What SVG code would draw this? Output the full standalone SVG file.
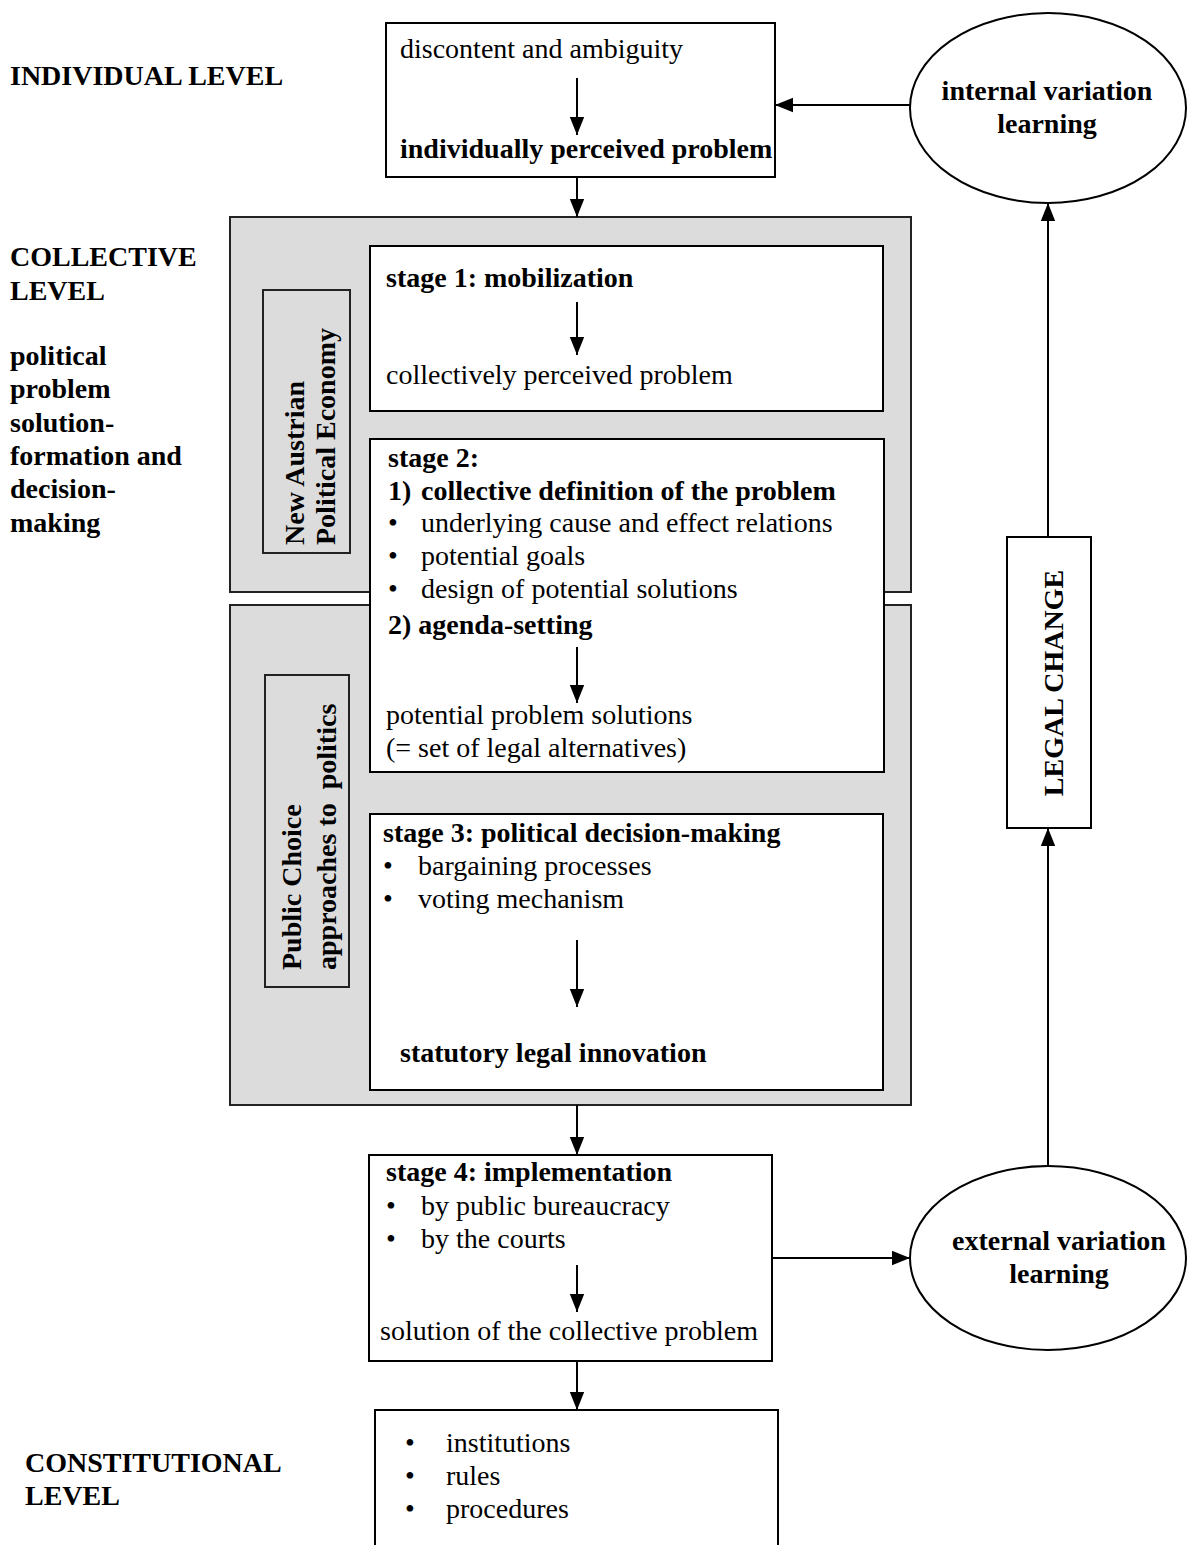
<svg xmlns="http://www.w3.org/2000/svg" width="1188" height="1545" viewBox="0 0 1188 1545">
<style>
text{font-family:"Liberation Serif","Times New Roman",serif;font-size:28px;fill:#000}
.b{font-weight:bold}
.box{fill:#fff;stroke:#000;stroke-width:2}
.grey{fill:#dcdcdc;stroke:#222;stroke-width:2}
.c{stroke:#000;stroke-width:2;fill:none}
.m{text-anchor:middle}
</style>
<defs>
<marker id="ah" markerUnits="userSpaceOnUse" markerWidth="18" markerHeight="22" refX="20" refY="8" orient="auto" viewBox="0 0 20 16">
<path d="M0,0 L20,8 L0,16 Z" fill="#000"/>
</marker>
</defs>
<rect width="1188" height="1545" fill="#fff"/>

<g id="levels">
<text class="b" x="10" y="85">INDIVIDUAL LEVEL</text>
<text class="b" x="10" y="266">COLLECTIVE</text>
<text class="b" x="10" y="300">LEVEL</text>
<text class="b" x="10" y="365">political</text>
<text class="b" x="10" y="398">problem</text>
<text class="b" x="10" y="432">solution-</text>
<text class="b" x="10" y="465">formation and</text>
<text class="b" x="10" y="498">decision-</text>
<text class="b" x="10" y="532">making</text>
<text class="b" x="25" y="1472">CONSTITUTIONAL</text>
<text class="b" x="25" y="1505">LEVEL</text>
</g>

<g id="grey-nape">
<rect class="grey" x="230" y="217" width="681" height="375"/>
<rect class="grey" x="263" y="290" width="87" height="263"/>
<text class="b" transform="translate(304,545) rotate(-90)">New Austrian</text>
<text class="b" transform="translate(335,545) rotate(-90)">Political Economy</text>
</g>
<g id="grey-pc">
<rect class="grey" x="230" y="605" width="681" height="500"/>
<rect class="grey" x="265" y="675" width="84" height="312"/>
<text class="b" transform="translate(301,970) rotate(-90)">Public Choice</text>
<text class="b" transform="translate(336,970) rotate(-90)" xml:space="preserve">approaches to  politics</text>
</g>

<g id="top-box">
<rect class="box" x="386" y="23" width="389" height="154"/>
<text x="400" y="58">discontent and ambiguity</text>
<text class="b" x="400" y="158">individually perceived problem</text>
</g>

<g id="stage1">
<rect class="box" x="370" y="246" width="513" height="165"/>
<text class="b" x="386" y="287">stage 1: mobilization</text>
<text x="386" y="384">collectively perceived problem</text>
</g>

<g id="stage2">
<rect class="box" x="370" y="439" width="514" height="333"/>
<text class="b" x="388" y="467">stage 2:</text>
<text class="b" x="388" y="500">1)</text>
<text class="b" x="421" y="500">collective definition of the problem</text>
<text x="388" y="532">•</text><text x="421" y="532">underlying cause and effect relations</text>
<text x="388" y="565">•</text><text x="421" y="565">potential goals</text>
<text x="388" y="598">•</text><text x="421" y="598">design of potential solutions</text>
<text class="b" x="388" y="634">2) agenda-setting</text>
<text x="386" y="724">potential problem solutions</text>
<text x="386" y="757">(= set of legal alternatives)</text>
</g>

<g id="stage3">
<rect class="box" x="370" y="814" width="513" height="276"/>
<text class="b" x="383" y="842">stage 3: political decision-making</text>
<text x="383" y="875">•</text><text x="418" y="875">bargaining processes</text>
<text x="383" y="908">•</text><text x="418" y="908">voting mechanism</text>
<text class="b" x="400" y="1062">statutory legal innovation</text>
</g>

<g id="stage4">
<rect class="box" x="369" y="1155" width="403" height="206"/>
<text class="b" x="386" y="1181">stage 4: implementation</text>
<text x="386" y="1215">•</text><text x="421" y="1215">by public bureaucracy</text>
<text x="386" y="1248">•</text><text x="421" y="1248">by the courts</text>
<text x="380" y="1340">solution of the collective problem</text>
</g>

<g id="constitutional-box">
<path class="box" d="M375,1548 V1410 H778 V1548"/>
<text x="405" y="1452">•</text><text x="446" y="1452">institutions</text>
<text x="405" y="1485">•</text><text x="446" y="1485">rules</text>
<text x="405" y="1518">•</text><text x="446" y="1518">procedures</text>
</g>

<g id="internal-learning">
<ellipse class="box" cx="1048" cy="108" rx="138" ry="95"/>
<text class="b m" x="1047" y="100">internal variation</text>
<text class="b m" x="1047" y="133">learning</text>
</g>

<g id="external-learning">
<ellipse class="box" cx="1048" cy="1258" rx="138" ry="92"/>
<text class="b m" x="1059" y="1250">external variation</text>
<text class="b m" x="1059" y="1283">learning</text>
</g>

<g id="legal-change">
<rect class="box" x="1007" y="537" width="84" height="291"/>
<text class="b m" transform="translate(1063,683) rotate(-90)">LEGAL CHANGE</text>
</g>

<g id="connectors">
<line class="c" x1="577" y1="78" x2="577" y2="135" marker-end="url(#ah)"/>
<line class="c" x1="577" y1="177" x2="577" y2="217" marker-end="url(#ah)"/>
<line class="c" x1="577" y1="302" x2="577" y2="355" marker-end="url(#ah)"/>
<line class="c" x1="577" y1="647" x2="577" y2="703" marker-end="url(#ah)"/>
<line class="c" x1="577" y1="940" x2="577" y2="1007" marker-end="url(#ah)"/>
<line class="c" x1="577" y1="1105" x2="577" y2="1155" marker-end="url(#ah)"/>
<line class="c" x1="577" y1="1265" x2="577" y2="1312" marker-end="url(#ah)"/>
<line class="c" x1="577" y1="1361" x2="577" y2="1410" marker-end="url(#ah)"/>
<line class="c" x1="910" y1="105" x2="775" y2="105" marker-end="url(#ah)"/>
<line class="c" x1="772" y1="1258" x2="910" y2="1258" marker-end="url(#ah)"/>
<line class="c" x1="1048" y1="1166" x2="1048" y2="828" marker-end="url(#ah)"/>
<line class="c" x1="1048" y1="537" x2="1048" y2="203" marker-end="url(#ah)"/>
</g>
</svg>
